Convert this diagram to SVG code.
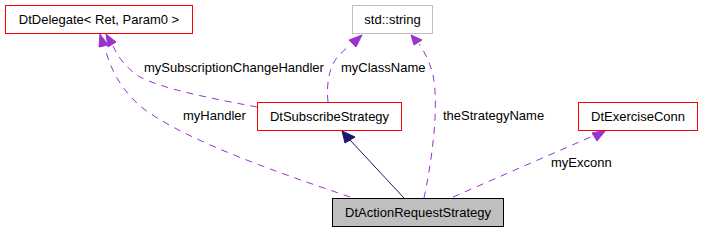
<svg xmlns="http://www.w3.org/2000/svg" width="701" height="232" viewBox="0 0 701 232">
<style>
text{font-family:"Liberation Sans",Arial,sans-serif;font-size:13px;fill:#000}
.n{text-anchor:middle}
.box{fill:#fff;stroke:#ff0000;stroke-width:1}
.e{fill:none;stroke:#9a32cd;stroke-width:1;stroke-dasharray:7,6}
.h{fill:#9a32cd;stroke:#9a32cd}
.inh{fill:none;stroke:#191970;stroke-width:1}
.hi{fill:#191970;stroke:#191970}
</style>
<rect width="701" height="232" fill="#fff"/>
<g id="connectors">
<path class="e" d="M350,197 C295,178 185,142 140,106 C120,88 110,68 105,48"/>
<polygon class="h" points="100,34 99,47 108,45"/>
<path class="e" d="M257,107 C220,100 165,90 140,77 C126,68 118,57 113,46"/>
<polygon class="h" points="106,34 108,47 116,42"/>
<path class="e" d="M328,102 C326,85 329,66 339,55 L350,45"/>
<polygon class="h" points="362,35 349,40 356,47"/>
<path class="e" d="M424,198 C430,170 440,110 433,75 C430,63 425,52 419,44"/>
<polygon class="h" points="411,35 414,45 422,40"/>
<path class="e" d="M453,197 L593,136"/>
<polygon class="h" points="606,130 592,133 597,141"/>
<path class="inh" d="M404,198 L350,140"/>
<polygon class="hi" points="342,131 345,143 355,137"/>
</g>
<g id="DtDelegate">
<rect class="box" x="5.5" y="5.5" width="187" height="28"/>
<text class="n" x="99" y="24">DtDelegate&lt; Ret, Param0 &gt;</text>
</g>
<g id="stdstring">
<rect x="352.5" y="5.5" width="80" height="28" fill="#fff" stroke="#bfbfbf"/>
<text class="n" x="392.5" y="24">std::string</text>
</g>
<g id="DtSubscribeStrategy">
<rect class="box" x="257.5" y="102.5" width="144" height="28"/>
<text class="n" x="329.5" y="121">DtSubscribeStrategy</text>
</g>
<g id="DtExerciseConn">
<rect class="box" x="578.5" y="102.5" width="119" height="28"/>
<text class="n" x="638" y="121">DtExerciseConn</text>
</g>
<g id="DtActionRequestStrategy">
<rect x="332.5" y="198.5" width="171" height="28" fill="#bfbfbf" stroke="#000"/>
<text class="n" x="418" y="217">DtActionRequestStrategy</text>
</g>
<g id="labels">
<text x="144" y="72">mySubscriptionChangeHandler</text>
<text x="341" y="72">myClassName</text>
<text x="183" y="120">myHandler</text>
<text x="443" y="120">theStrategyName</text>
<text x="551" y="167">myExconn</text>
</g>
</svg>
